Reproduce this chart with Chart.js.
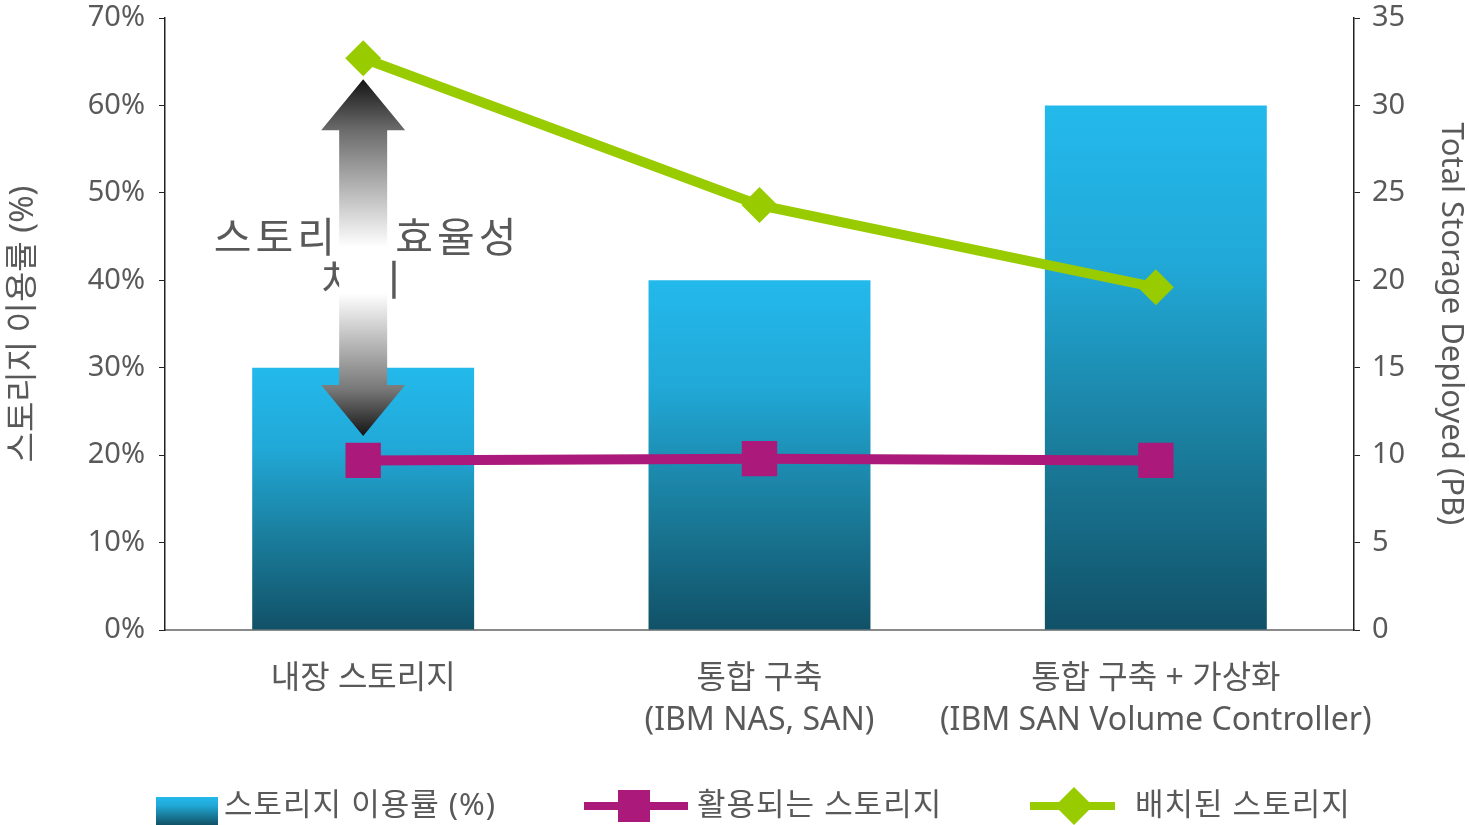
<!DOCTYPE html>
<html>
<head>
<meta charset="utf-8">
<script src="https://cdn.jsdelivr.net/npm/chart.js@4.4.1/dist/chart.umd.min.js"></script>
<style>
  html, body { margin: 0; padding: 0; background: #fff; }
  #wrap { width: 1469px; height: 825px; }
</style>
</head>
<body>
<div id="wrap"><canvas id="chart1" width="1469" height="825"></canvas></div>
<script>
// categories and series
const categories = [
  ["내장 스토리지"],
  ["통합 구축", "(IBM NAS, SAN)"],
  ["통합 구축 + 가상화", "(IBM SAN Volume Controller)"]
];
const utilization = [30, 40, 60];          // 스토리지 이용률 (%) - left axis
const usedStorage = [9.7, 9.8, 9.7];       // 활용되는 스토리지 - right axis (PB)
const deployedStorage = [32.7, 24.3, 19.6]; // 배치된 스토리지 - right axis (PB)

const leftTicks = [0, 10, 20, 30, 40, 50, 60, 70];
const rightTicks = [0, 5, 10, 15, 20, 25, 30, 35];

const labelUtil = "스토리지 이용률 (%)";
const labelUsed = "활용되는 스토리지";
const labelDeployed = "배치된 스토리지";
const annotationLines = ["스토리지 효율성", "차이"];

const FONT = '"Noto Sans", "Noto Sans CJK KR", sans-serif';
const TEXT = "#595959";
const MAGENTA = "#ab1a7b";
const GREEN = "#99cc00";

function barGradient(c, top, bottom) {
  const g = c.createLinearGradient(0, top, 0, bottom);
  g.addColorStop(0, "#23b9eb");
  g.addColorStop(0.3, "#21a9d8");
  g.addColorStop(0.65, "#1a7d9c");
  g.addColorStop(1, "#115167");
  return g;
}

// arrow + text annotation, drawn over category 0
const annotationPlugin = {
  id: "effArrow",
  afterDatasetsDraw(chart) {
    const c = chart.ctx;
    const x = chart.scales.x.getPixelForValue(0);
    const yTop = chart.scales.y1.getPixelForValue(31.5);
    const yBot = chart.scales.y1.getPixelForValue(11.1);

    c.save();
    c.fillStyle = TEXT;
    c.font = "41px " + FONT;
    c.letterSpacing = "4px";
    c.textAlign = "center";
    c.textBaseline = "middle";
    c.fillText(annotationLines[0], x + 4, 240);
    c.fillText(annotationLines[1], x, 283);

    const headH = 51, headW = 42, shaftW = 24;
    const g = c.createLinearGradient(0, yTop, 0, yBot);
    g.addColorStop(0, "#141414");
    g.addColorStop(0.14, "#6a6a6a");
    g.addColorStop(0.47, "#ffffff");
    g.addColorStop(0.6, "#ffffff");
    g.addColorStop(0.87, "#777777");
    g.addColorStop(1, "#141414");
    c.fillStyle = g;
    c.beginPath();
    c.moveTo(x, yTop);
    c.lineTo(x + headW, yTop + headH);
    c.lineTo(x + shaftW, yTop + headH);
    c.lineTo(x + shaftW, yBot - headH);
    c.lineTo(x + headW, yBot - headH);
    c.lineTo(x, yBot);
    c.lineTo(x - headW, yBot - headH);
    c.lineTo(x - shaftW, yBot - headH);
    c.lineTo(x - shaftW, yTop + headH);
    c.lineTo(x - headW, yTop + headH);
    c.closePath();
    c.fill();
    c.restore();
  }
};

// legend along the bottom
const legendPlugin = {
  id: "bottomLegend",
  afterDraw(chart) {
    const c = chart.ctx;
    const y = 806;
    c.save();
    c.font = "31px " + FONT;
    c.letterSpacing = "1px";
    c.fillStyle = TEXT;
    c.textBaseline = "middle";

    // bar swatch
    c.fillStyle = barGradient(c, 797, 825);
    c.fillRect(156, 797, 62, 28);
    c.fillStyle = TEXT;
    c.fillText(labelUtil, 224, y);

    // magenta line + square
    c.strokeStyle = MAGENTA;
    c.lineWidth = 8;
    c.beginPath(); c.moveTo(584, y); c.lineTo(688, y); c.stroke();
    c.fillStyle = MAGENTA;
    c.fillRect(618, y - 16, 32, 32);
    c.fillStyle = TEXT;
    c.fillText(labelUsed, 697, y);

    // green line + diamond
    c.strokeStyle = GREEN;
    c.lineWidth = 8;
    c.beginPath(); c.moveTo(1030, y); c.lineTo(1115, y); c.stroke();
    c.fillStyle = GREEN;
    c.beginPath();
    c.moveTo(1074, y - 19); c.lineTo(1093, y); c.lineTo(1074, y + 19); c.lineTo(1055, y);
    c.closePath(); c.fill();
    c.fillStyle = TEXT;
    c.fillText(labelDeployed, 1135, y);
    c.restore();
  }
};

const ctx = document.getElementById("chart1").getContext("2d");

new Chart(ctx, {
  type: "bar",
  data: {
    labels: categories,
    datasets: [
      {
        type: "line",
        label: labelDeployed,
        data: deployedStorage,
        yAxisID: "y1",
        borderColor: GREEN,
        backgroundColor: GREEN,
        borderWidth: 10,
        pointStyle: "rectRot",
        pointRadius: 18,
        pointHoverRadius: 18,
        pointBorderWidth: 0,
        tension: 0,
        clip: false,
        order: 1
      },
      {
        type: "line",
        label: labelUsed,
        data: usedStorage,
        yAxisID: "y1",
        borderColor: MAGENTA,
        backgroundColor: MAGENTA,
        borderWidth: 10,
        pointStyle: "rect",
        pointRadius: 25,
        pointHoverRadius: 25,
        pointBorderWidth: 0,
        tension: 0,
        clip: false,
        order: 2
      },
      {
        label: labelUtil,
        data: utilization,
        yAxisID: "y",
        order: 3,
        categoryPercentage: 1,
        barPercentage: 0.56,
        backgroundColor: (context) => {
          const chart = context.chart;
          if (!chart.chartArea || context.type !== "data") return "#22b8ea";
          const top = chart.scales.y.getPixelForValue(context.raw);
          const bottom = chart.scales.y.getPixelForValue(0);
          return barGradient(chart.ctx, top, bottom);
        }
      }
    ]
  },
  options: {
    responsive: false,
    animation: false,
    layout: { autoPadding: false, padding: { top: 18, bottom: 0, left: 0, right: 0 } },
    plugins: {
      legend: { display: false },
      tooltip: { enabled: false }
    },
    scales: {
      x: {
        grid: { display: false },
        border: { display: true, color: "#8a8a8a", width: 2 },
        ticks: {
          color: TEXT,
          font: { family: FONT, size: 32, lineHeight: 1.32 },
          padding: 20,
          maxRotation: 0,
          autoSkip: false
        },
        afterFit: (scale) => { scale.height = 195; }
      },
      y: {
        position: "left",
        min: 0,
        max: 70,
        afterBuildTicks: (scale) => { scale.ticks = leftTicks.map(v => ({ value: v })); },
        grid: { drawOnChartArea: false, drawTicks: true, tickLength: 6, color: "#222" },
        border: { display: true, color: "#222", width: 1.5 },
        ticks: {
          color: TEXT,
          font: { family: FONT, size: 29 },
          padding: 14,
          callback: (v) => v + "%"
        },
        title: {
          display: true,
          text: labelUtil,
          color: TEXT,
          font: { family: FONT, size: 33 },
          padding: { top: 4, bottom: 0 }
        },
        afterFit: (scale) => {
          scale.width = 165;
          scale.paddingTop = 0;
          scale.paddingBottom = 0;
        }
      },
      y1: {
        position: "right",
        min: 0,
        max: 35,
        afterBuildTicks: (scale) => { scale.ticks = rightTicks.map(v => ({ value: v })); },
        grid: { drawOnChartArea: false, drawTicks: true, tickLength: 6, color: "#222" },
        border: { display: true, color: "#222", width: 1.5 },
        ticks: {
          color: TEXT,
          font: { family: FONT, size: 29 },
          padding: 12
        },
        title: {
          display: true,
          text: "Total Storage Deployed (PB)",
          color: TEXT,
          font: { family: FONT, size: 31 },
          padding: { top: 0, bottom: 0 }
        },
        afterFit: (scale) => {
          scale.width = 115;
          scale.paddingTop = 0;
          scale.paddingBottom = 0;
        }
      }
    }
  },
  plugins: [annotationPlugin, legendPlugin]
});
</script>
</body>
</html>
